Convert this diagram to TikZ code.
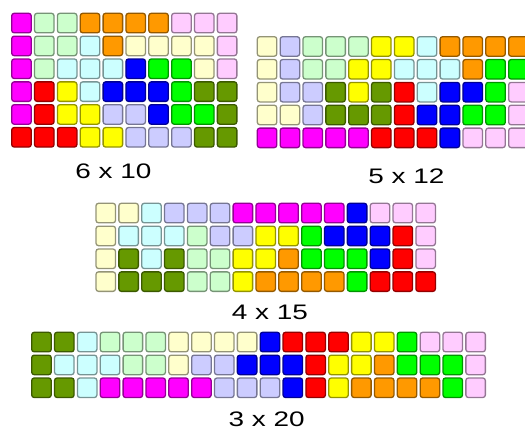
\documentclass[tikz,border=0pt]{standalone}
\usepackage{fontspec}
\setmainfont{Liberation Sans}
\usetikzlibrary{positioning}
\definecolor{pM}{HTML}{FF00FF}
\definecolor{pG}{HTML}{CCFFCC}
\definecolor{pO}{HTML}{FF9900}
\definecolor{pP}{HTML}{FFCCFF}
\definecolor{pC}{HTML}{CCFFFF}
\definecolor{pY}{HTML}{FFFFCC}
\definecolor{pB}{HTML}{0000FF}
\definecolor{pN}{HTML}{00FF00}
\definecolor{pR}{HTML}{FF0000}
\definecolor{pE}{HTML}{FFFF00}
\definecolor{pD}{HTML}{669900}
\definecolor{pL}{HTML}{CCCCFF}
\tikzset{
  cell/.style     = {rectangle, rounded corners=2.5pt, inner sep=0pt,
                     minimum size=19.5pt, line width=1.3pt},
  sizelabel/.style = {font=\fontsize{21}{21}\selectfont, inner sep=0pt,
                     xscale=1.33, transform shape},
}
\newcommand{\pitch}{22.85}
% #1 name, #2 x of first cell centre, #3 y of first cell centre, #4 rows
\newcommand{\pentobox}[4]{%
  \foreach \row [count=\j from 0] in {#4}
    \foreach \c [count=\i from 0] in \row
      \node[cell, fill=p\c, draw=p\c!58!black] (#1-\j-\i)
        at ({#2+\i*\pitch},{#3-\j*\pitch}) {};}

\begin{document}
\begin{tikzpicture}[x=1pt,y=1pt]
\useasboundingbox (0,0) rectangle (525,-432);
% ---- 6 x 10 ----
\pentobox{ga}{21.45}{-23.05}{
  {M,G,G,O,O,O,O,P,P,P},
  {M,G,G,C,O,Y,Y,Y,Y,P},
  {M,G,C,C,C,B,N,N,Y,P},
  {M,R,E,C,B,B,B,N,D,D},
  {M,R,E,E,L,L,B,N,N,D},
  {R,R,R,E,E,L,L,L,D,D}}
\node[sizelabel] (laba) at (113.5,-171) {6 x 10};
% ---- 5 x 12 ----
\pentobox{gb}{267.05}{-46.45}{
  {Y,L,G,G,G,E,E,C,O,O,O,O},
  {Y,L,G,G,E,E,C,C,C,O,N,N},
  {Y,L,L,D,E,D,R,C,B,B,N,P},
  {Y,Y,L,D,D,D,R,B,B,N,N,P},
  {M,M,M,M,M,R,R,R,B,P,P,P}}
\node[sizelabel] (labb) at (406.5,-176) {5 x 12};
% ---- 4 x 15 ----
\pentobox{gc}{105.75}{-213.05}{
  {Y,Y,C,L,L,L,M,M,M,M,M,B,P,P,P},
  {Y,C,C,C,G,L,L,E,E,N,B,B,B,R,P},
  {Y,D,C,D,G,G,E,E,O,N,N,N,B,R,P},
  {Y,D,D,D,G,G,E,O,O,O,O,N,R,R,R}}
\node[sizelabel] (labc) at (270,-312.7) {4 x 15};
% ---- 3 x 20 ----
\pentobox{gd}{41.45}{-342.05}{
  {D,D,C,G,G,G,Y,Y,Y,Y,B,R,R,R,E,E,N,P,P,P},
  {D,C,C,C,G,G,Y,L,L,B,B,B,R,E,E,O,N,N,N,P},
  {D,D,C,M,M,M,M,M,L,L,L,B,R,E,O,O,O,O,N,P}}
\node[sizelabel] (labd) at (266.7,-419.7) {3 x 20};
\end{tikzpicture}
\end{document}
